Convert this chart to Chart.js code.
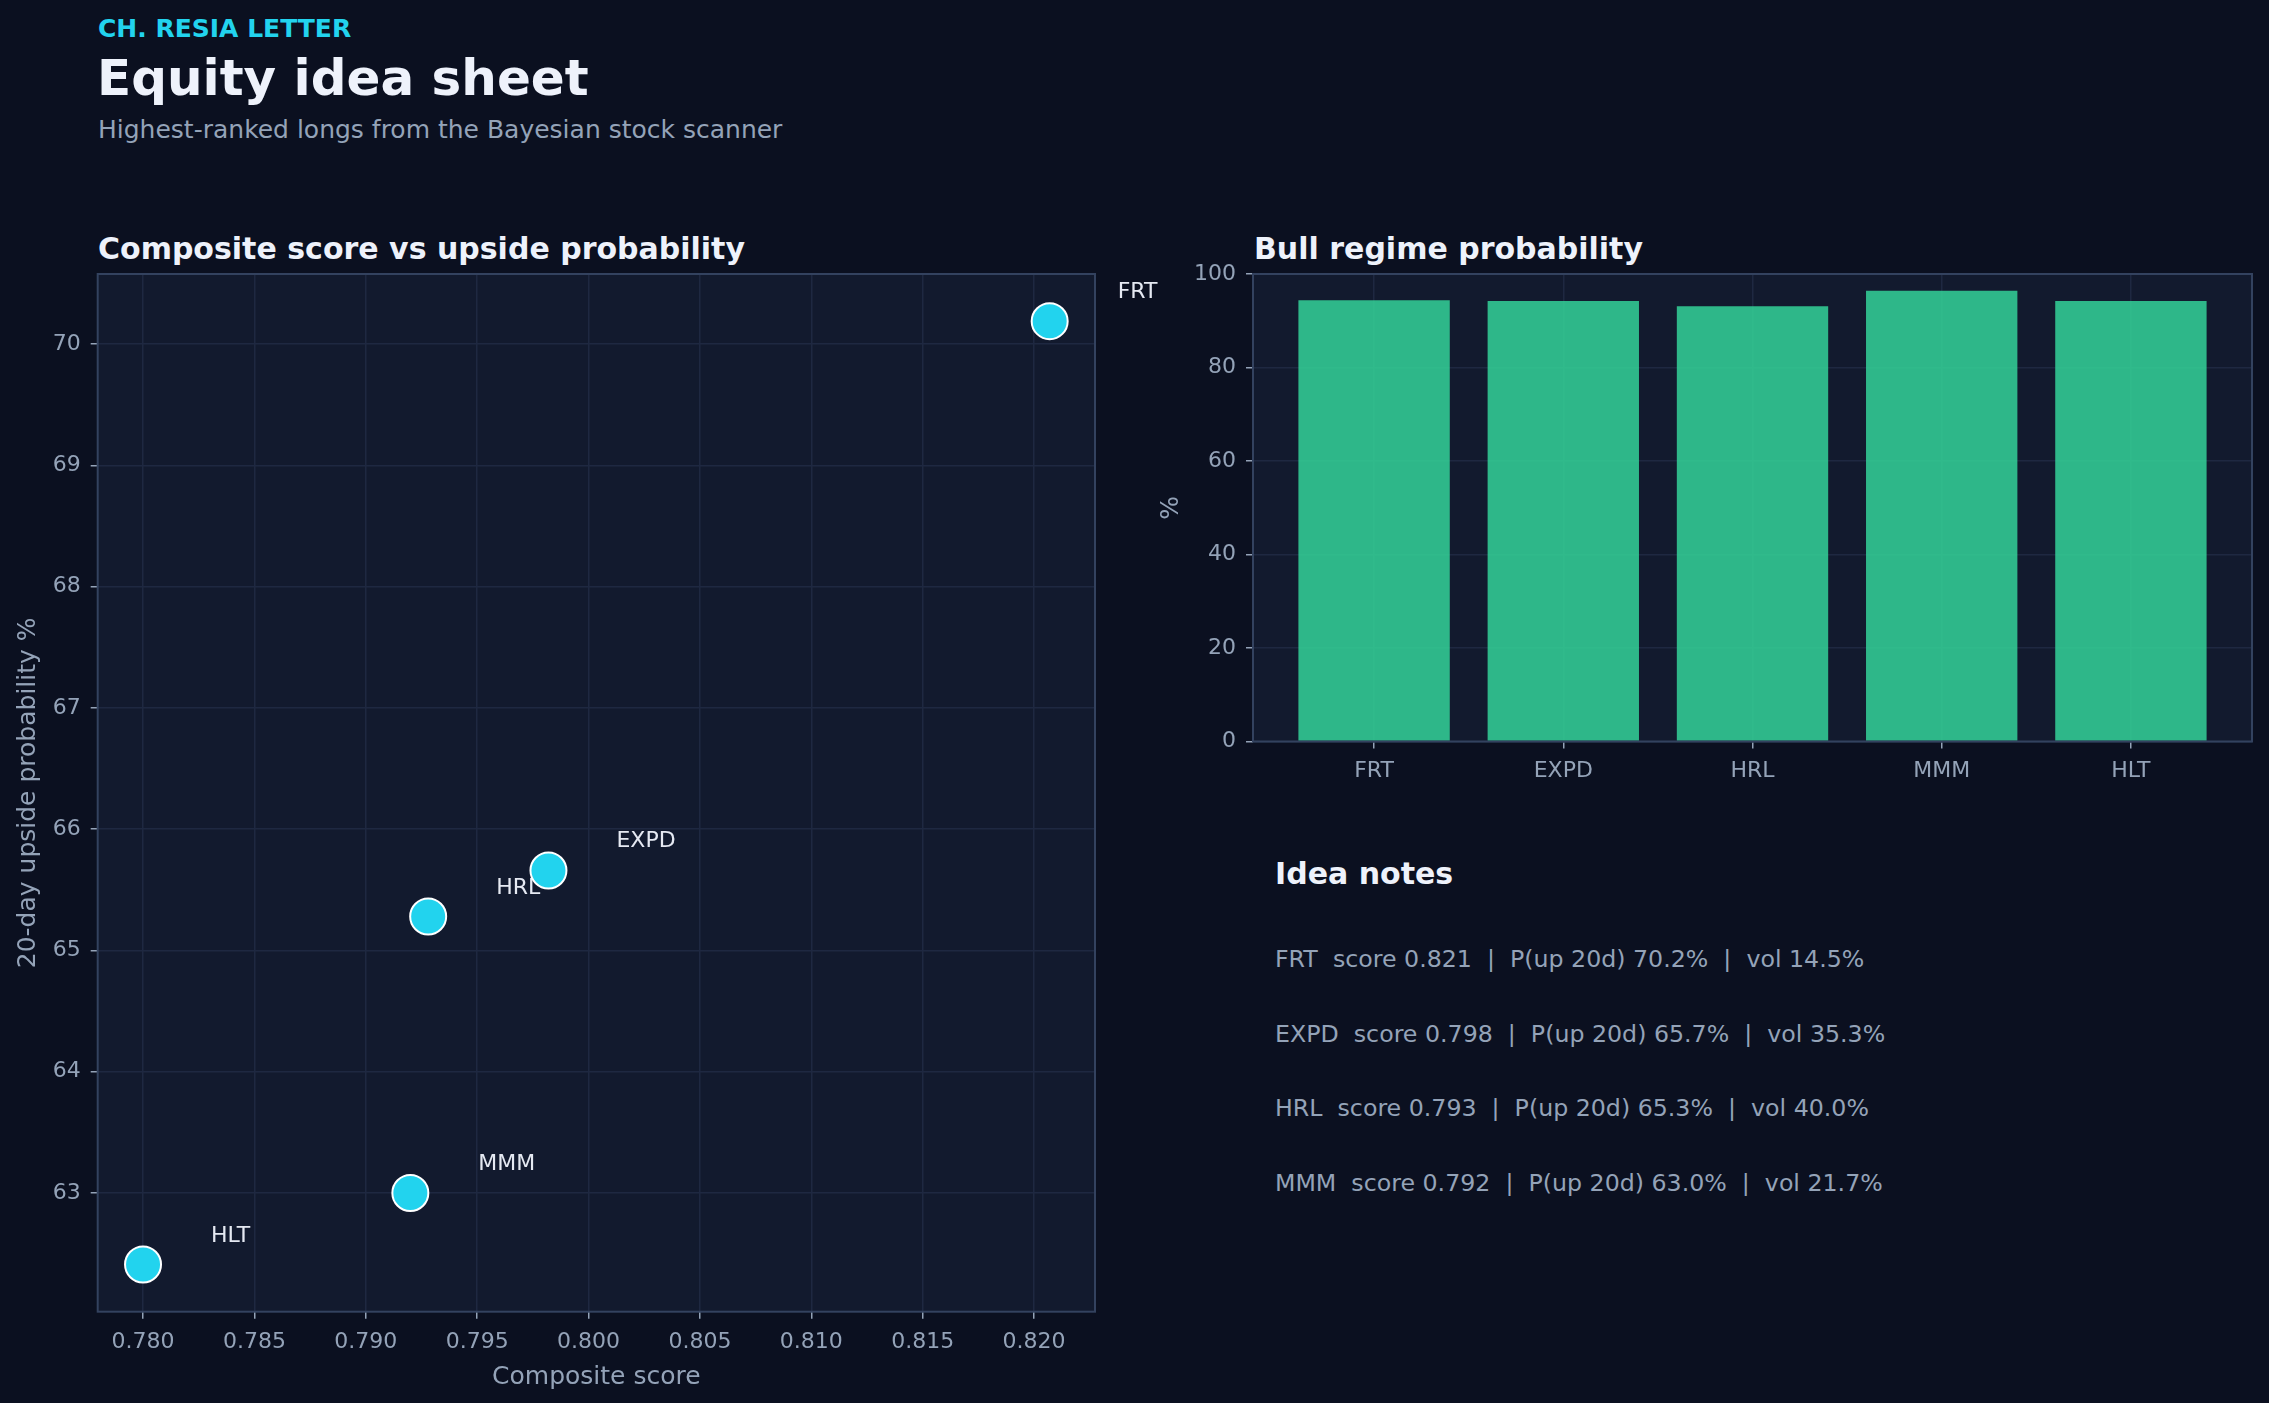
<!DOCTYPE html>
<html>
<head>
<meta charset="utf-8">
<script src="https://cdn.jsdelivr.net/npm/chart.js@4/dist/chart.umd.min.js"></script>
<style>
  html, body { margin: 0; padding: 0; }
  body {
    width: 2269px; height: 1403px; position: relative; overflow: hidden;
    background: #0b1020; font-family: "DejaVu Sans", sans-serif;
  }
  .txt { position: absolute; line-height: 1; white-space: pre; }
  .eyebrow { left: 98px; top: 16px; font-size: 25px; font-weight: bold; color: #22d3ee; }
  .title { left: 97px; top: 53px; font-size: 50px; font-weight: bold; color: #eef2fb; }
  .subtitle { left: 98px; top: 117px; font-size: 25px; color: #94a3b8; }
  .panel-title { top: 234px; font-size: 30px; font-weight: bold; color: #eef2fb; }
  .notes-title { left: 1275px; top: 859px; font-size: 30px; font-weight: bold; color: #eef2fb; }
  .note { left: 1275px; font-size: 23.7px; color: #94a3b8; }
  canvas { position: absolute; }
</style>
</head>
<body>
<div class="txt eyebrow">CH. RESIA LETTER</div>
<div class="txt title">Equity idea sheet</div>
<div class="txt subtitle">Highest-ranked longs from the Bayesian stock scanner</div>
<div class="txt panel-title" style="left:98px">Composite score vs upside probability</div>
<div class="txt panel-title" style="left:1254px">Bull regime probability</div>
<div class="txt notes-title">Idea notes</div>
<div id="notes"></div>

<canvas id="scatter-chart" width="1200" height="1170" style="left:0;top:231px"></canvas>
<canvas id="bar-chart" width="1129" height="600" style="left:1140px;top:231px"></canvas>

<script>
const tickers = ["FRT", "EXPD", "HRL", "MMM", "HLT"];
const compositeScore = [0.8207, 0.7982, 0.7928, 0.7920, 0.7800];
const upsideProb = [70.19, 65.66, 65.28, 63.00, 62.41];
const bullProb = [94.4, 94.2, 93.1, 96.4, 94.2];
const volatility = [14.5, 35.3, 40.0, 21.7]; // only the top 4 get a note

const tickColor = "#94a3b8";
const gridColor = "#1e2841";

// notes under the bar chart
const notesBox = document.getElementById("notes");
volatility.forEach((vol, i) => {
    const line = document.createElement("div");
    line.className = "txt note";
    line.style.top = (948 + i * 74.7) + "px";
    line.textContent = `${tickers[i]}  score ${compositeScore[i].toFixed(3)}  |  P(up 20d) ${upsideProb[i].toFixed(1)}%  |  vol ${vol.toFixed(1)}%`;
    notesBox.appendChild(line);
});

// plot face + frame on all four sides, like the matplotlib spines
const plotFrame = {
    id: "plotFrame",
    beforeDraw(chart) {
        const { ctx, chartArea: a } = chart;
        ctx.save();
        ctx.fillStyle = "#121a2e";
        ctx.fillRect(a.left, a.top, a.right - a.left, a.bottom - a.top);
        ctx.restore();
    },
    afterDraw(chart) {
        const { ctx, chartArea: a } = chart;
        ctx.save();
        ctx.strokeStyle = "#33425f";
        ctx.lineWidth = 2;
        ctx.strokeRect(a.left, a.top, a.right - a.left, a.bottom - a.top);
        ctx.restore();
    }
};

// ticker names next to each point, drawn before the points so they sit underneath
const pointLabels = {
    id: "pointLabels",
    beforeDatasetsDraw(chart) {
        const { ctx } = chart;
        const meta = chart.getDatasetMeta(0);
        ctx.save();
        ctx.font = "22px 'DejaVu Sans'";
        ctx.fillStyle = "#e5e9f2";
        ctx.textAlign = "left";
        ctx.textBaseline = "alphabetic";
        meta.data.forEach((pt, i) => {
            ctx.fillText(tickers[i], pt.x + 68, pt.y - 23);
        });
        ctx.restore();
    }
};

const pad = (arr) => {
    const lo = Math.min(...arr), hi = Math.max(...arr);
    const m = (hi - lo) * 0.05;
    return [lo - m, hi + m];
};
const [xMin, xMax] = pad(compositeScore);
const [yMin, yMax] = pad(upsideProb);

const tickFont = { family: "DejaVu Sans", size: 22 };
const titleFont = { family: "DejaVu Sans", size: 25 };

new Chart(document.getElementById("scatter-chart"), {
    type: "scatter",
    data: {
        datasets: [{
            data: compositeScore.map((x, i) => ({ x: x, y: upsideProb[i] })),
            backgroundColor: "#22d3ee",
            borderColor: "#ffffff",
            borderWidth: 2,
            pointRadius: 18,
            pointHoverRadius: 18
        }]
    },
    options: {
        responsive: false,
        animation: false,
        events: [],
        layout: { padding: { top: 43, right: 105, left: 0, bottom: 0 } },
        plugins: { legend: { display: false }, tooltip: { enabled: false } },
        scales: {
            x: {
                type: "linear",
                min: xMin,
                max: xMax,
                afterFit: (s) => { s.height = 89.3; },
                border: { display: false },
                grid: { color: gridColor, lineWidth: 1.5, tickLength: 7, tickColor: tickColor, tickWidth: 1.5 },
                ticks: {
                    stepSize: 0.005, includeBounds: false, color: tickColor, font: tickFont,
                    padding: 10, maxRotation: 0,
                    callback: (v) => v.toFixed(3)
                },
                title: { display: true, text: "Composite score", color: tickColor, font: titleFont, padding: { top: 0, bottom: 9 } }
            },
            y: {
                type: "linear",
                min: yMin,
                max: yMax,
                afterFit: (s) => { s.width = 97.7; },
                border: { display: false },
                grid: { color: gridColor, lineWidth: 1.5, tickLength: 7, tickColor: tickColor, tickWidth: 1.5 },
                ticks: {
                    stepSize: 1, includeBounds: false, color: tickColor, font: tickFont, padding: 10,
                    callback: (v) => String(v)
                },
                title: { display: true, text: "20-day upside probability %", color: tickColor, font: titleFont, padding: { top: 13, bottom: 0 } }
            }
        }
    },
    plugins: [plotFrame, pointLabels]
});

new Chart(document.getElementById("bar-chart"), {
    type: "bar",
    data: {
        datasets: [{
            data: bullProb.map((v, i) => ({ x: i, y: v })),
            backgroundColor: "rgba(52, 211, 153, 0.85)",
            borderWidth: 0,
            categoryPercentage: 1,
            barPercentage: 0.8
        }]
    },
    options: {
        responsive: false,
        animation: false,
        events: [],
        layout: { padding: { top: 43, right: 17, left: 0, bottom: 0 } },
        plugins: { legend: { display: false }, tooltip: { enabled: false } },
        scales: {
            x: {
                type: "linear",
                min: -0.64,
                max: tickers.length - 1 + 0.64,
                offset: false,
                afterFit: (s) => { s.height = 89.5; },
                afterBuildTicks: (s) => { s.ticks = tickers.map((t, i) => ({ value: i })); },
                border: { display: false },
                grid: { offset: false, color: gridColor, lineWidth: 1.5, tickLength: 7, tickColor: tickColor, tickWidth: 1.5 },
                ticks: {
                    color: tickColor, font: tickFont, padding: 10, maxRotation: 0, autoSkip: false,
                    callback: (v) => tickers[v]
                }
            },
            y: {
                min: 0,
                max: 100,
                afterFit: (s) => { s.width = 113; },
                border: { display: false },
                grid: { color: gridColor, lineWidth: 1.5, tickLength: 7, tickColor: tickColor, tickWidth: 1.5 },
                ticks: { stepSize: 20, color: tickColor, font: tickFont, padding: 10 },
                title: { display: true, text: "%", color: tickColor, font: titleFont, padding: { top: 16, bottom: 0 } }
            }
        }
    },
    plugins: [plotFrame]
});
</script>
</body>
</html>
